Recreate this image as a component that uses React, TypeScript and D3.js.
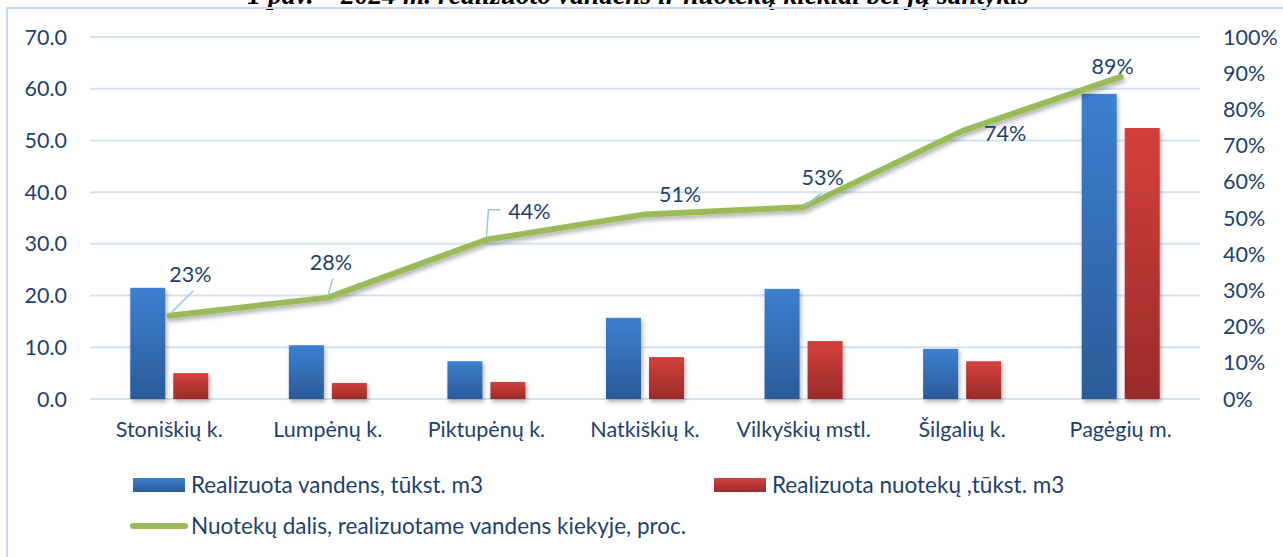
import React from 'react';
import * as d3 from 'd3';

// 2024 water / wastewater amounts by settlement
const categories = ['Stoniškių k.', 'Lumpėnų k.', 'Piktupėnų k.', 'Natkiškių k.', 'Vilkyškių mstl.', 'Šilgalių k.', 'Pagėgių m.'];
const waterValues = [21.5, 10.4, 7.3, 15.7, 21.3, 9.7, 59.0];
const wastewaterValues = [5.0, 3.1, 3.3, 8.1, 11.2, 7.3, 52.4];
const sharePercent = [23, 28, 44, 51, 53, 74, 89];
const leftTicks = [0, 10, 20, 30, 40, 50, 60, 70];
const rightTicks = [0, 10, 20, 30, 40, 50, 60, 70, 80, 90, 100];

const seriesNames = [
  'Realizuota vandens, tūkst. m3',
  'Realizuota nuotekų ,tūkst. m3',
  'Nuotekų dalis, realizuotame vandens kiekyje, proc.',
];
const title = '1 pav. – 2024 m. realizuoto vandens ir nuotekų kiekiai bei jų santykis';

// label placement relative to the line point (dx, dy) and optional leader
const labelLayout = [
  { dx: 21, dy: -41, leader: [[1, -2], [24, -25]] },
  { dx: 3, dy: -35, leader: [[0, -2], [5, -19]] },
  { dx: 43, dy: -28, leader: [[0, -3], [2, -30], [14, -30]] },
  { dx: 35, dy: -20, leader: null },
  { dx: 19, dy: -30, leader: [[1, -1], [18, -14]] },
  { dx: 43, dy: 2, leader: null },
  { dx: -8, dy: -10, leader: null },
];

const W = 1283;
const H = 557;
const font = 'Lato, "Open Sans", sans-serif';
const fs = 21.5;
const legendFs = 22.5;
const textColor = '#1F3F6E';
const gridColor = '#D7E2F1';

export default function App() {
  const plot = { left: 90, right: 1200, top: 37, bottom: 399 };

  const x = d3.scaleBand().domain(categories).range([plot.left, plot.right]).padding(0);
  const yLeft = d3.scaleLinear().domain([0, 70]).range([plot.bottom, plot.top]);
  const yRight = d3.scaleLinear().domain([0, 100]).range([plot.bottom, plot.top]);

  const barW = 35;
  const gap = 8;
  const cx = (c: string) => (x(c) as number) + x.bandwidth() / 2;

  const linePts: [number, number][] = categories.map((c, i) => [cx(c), yRight(sharePercent[i])]);
  const linePath = d3.line()(linePts) as string;

  return (
    <svg
      width={W}
      height={H}
      style={{ position: 'fixed', left: 0, top: 0, background: '#fff' }}
      fontFamily={font}
    >
      <defs>
        <linearGradient id="blueGrad" x1="0" y1="0" x2="0" y2="1">
          <stop offset="0%" stopColor="#3C80D1" />
          <stop offset="100%" stopColor="#2B5B98" />
        </linearGradient>
        <linearGradient id="redGrad" x1="0" y1="0" x2="0" y2="1">
          <stop offset="0%" stopColor="#D43F3C" />
          <stop offset="100%" stopColor="#9A2B29" />
        </linearGradient>
        <filter id="shadow" x="-20%" y="-20%" width="140%" height="140%">
          <feDropShadow dx="1.5" dy="3" stdDeviation="2" floodColor="#000" floodOpacity="0.3" />
        </filter>
      </defs>

      {/* title, mostly cut off by the top edge as in the source */}
      <text x={638} y={4} textAnchor="middle" fontFamily='"Liberation Serif", serif' fontWeight="bold" fontStyle="italic" fontSize={27.5} fill="#000">
        {title}
      </text>

      {/* chart area border */}
      <rect x={7} y={8} width={W + 20} height={H + 20} fill="none" stroke="#C9DAEF" strokeWidth={2} />

      {/* gridlines */}
      {leftTicks.map((t) => (
        <line key={t} x1={plot.left} x2={plot.right} y1={yLeft(t)} y2={yLeft(t)} stroke={gridColor} strokeWidth={2} />
      ))}

      {/* left axis */}
      {leftTicks.map((t) => (
        <text key={t} x={67} y={yLeft(t)} dy="0.35em" textAnchor="end" fontSize={fs} fill={textColor}>
          {t.toFixed(1)}
        </text>
      ))}

      {/* right axis */}
      {rightTicks.map((t) => (
        <text key={t} x={1223} y={yRight(t)} dy="0.35em" textAnchor="start" fontSize={fs} fill={textColor}>
          {t + '%'}
        </text>
      ))}

      {/* bars */}
      <g filter="url(#shadow)">
        {categories.map((c, i) => (
          <g key={c}>
            <rect x={cx(c) - gap / 2 - barW} y={yLeft(waterValues[i])} width={barW} height={yLeft(0) - yLeft(waterValues[i])} fill="url(#blueGrad)" />
            <rect x={cx(c) + gap / 2} y={yLeft(wastewaterValues[i])} width={barW} height={yLeft(0) - yLeft(wastewaterValues[i])} fill="url(#redGrad)" />
          </g>
        ))}
      </g>

      {/* category labels */}
      {categories.map((c) => (
        <text key={c} x={cx(c)} y={437} textAnchor="middle" fontSize={fs} fill={textColor}>
          {c}
        </text>
      ))}

      {/* share line */}
      <path d={linePath} fill="none" stroke="#9BBB59" strokeWidth={6} strokeLinejoin="round" strokeLinecap="round" filter="url(#shadow)" />

      {/* leader lines + labels */}
      {linePts.map(([px, py], i) => {
        const lay = labelLayout[i];
        return (
          <g key={i}>
            {lay.leader && (
              <polyline
                points={lay.leader.map(([dx, dy]) => `${px + dx},${py + dy}`).join(' ')}
                fill="none"
                stroke="#9DC3E6"
                strokeWidth={1.5}
              />
            )}
            <text x={px + lay.dx} y={py + lay.dy} dy="0.35em" textAnchor="middle" fontSize={fs} fill={textColor}>
              {sharePercent[i] + '%'}
            </text>
          </g>
        );
      })}

      {/* legend */}
      <rect x={133} y={478} width={52} height={14} fill="url(#blueGrad)" />
      <text x={191} y={485} dy="0.35em" fontSize={legendFs} fill={textColor}>{seriesNames[0]}</text>
      <rect x={714} y={478} width={52} height={14} fill="url(#redGrad)" />
      <text x={772} y={485} dy="0.35em" fontSize={legendFs} fill={textColor}>{seriesNames[1]}</text>
      <line x1={133} x2={185} y1={526} y2={526} stroke="#9BBB59" strokeWidth={6} strokeLinecap="round" />
      <text x={191} y={526} dy="0.35em" fontSize={legendFs} fill={textColor}>{seriesNames[2]}</text>
    </svg>
  );
}
